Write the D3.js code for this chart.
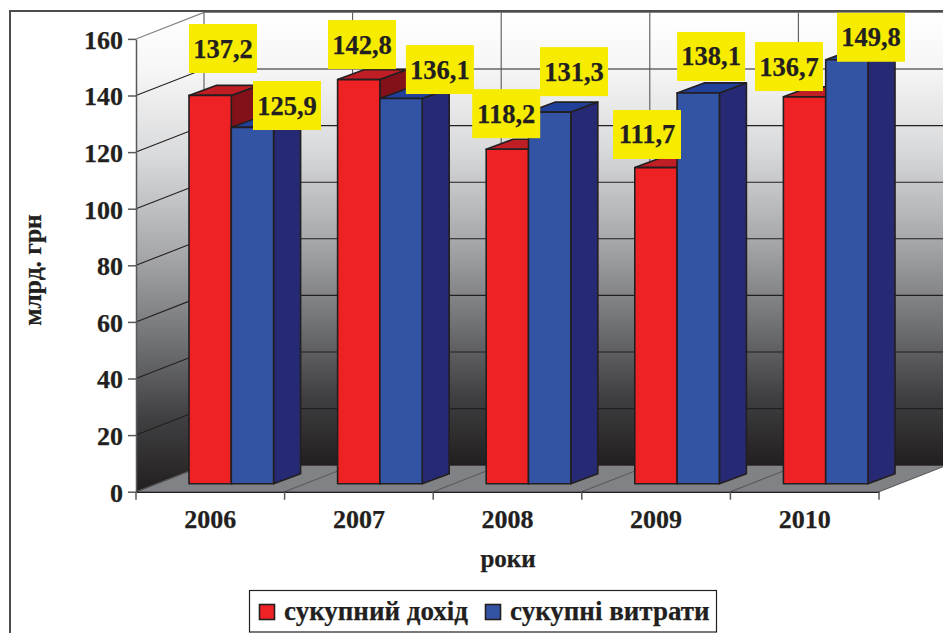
<!DOCTYPE html>
<html>
    <head>
        <meta charset="UTF-8">
        <script src="https://d3js.org/d3.v7.min.js"></script>
        <style>
            body { margin: 0; background: #fff; overflow: hidden; }
            text { font-family: "Liberation Serif", serif; font-weight: bold; fill: #231f20; stroke: #231f20; stroke-width: 0.25px; }
        </style>
    </head>

    <body>

        <svg id="canvas"></svg>

        <script>

            const years = ["2006", "2007", "2008", "2009", "2010"];
            const income = [137.2, 142.8, 118.2, 111.7, 136.7];
            const spending = [125.9, 136.1, 131.3, 138.1, 149.8];
            const seriesNames = ["сукупний дохід", "сукупні витрати"];
            const yTicks = [0, 20, 40, 60, 80, 100, 120, 140, 160];

            const width = 943, height = 633;
            const depthX = 68, depthY = -26.5;     // wall offset of the fake 3d box
            const barDepthX = 27, barDepthY = -10; // depth of a single bar
            const barInsetX = 21, barInsetY = -8;  // bars stand this far in on the floor
            const barWidth = 42.3;
            const lineColor = "#231f20";

            const colors = [
                { front: "#ee2224", top: "#bf1e24", side: "#83111a" },
                { front: "#3353a4", top: "#21409a", side: "#262a75" }
            ];

            // label box offset from the top left corner of its bar [dx, dy], hand placed
            const labelOffsets = [
                [[0, -71.4], [21.7, -46.4]],
                [[-9.6, -59.5], [26, -53.5]],
                [[-14, -60], [11.5, -65]],
                [[-21.8, -57.6], [0, -60.9]],
                [[-28.4, -54.8], [11.3, -47]]
            ];

            const svg = d3.select("#canvas")
                .attr("width", width)
                .attr("height", height)
                .style("display", "block");

            const x = d3.scaleBand().domain(years).range([136, 879]);
            const y = d3.scaleLinear().domain([0, 160]).range([491.7, 38.9]);
            const floorY = y(0), topY = y(160);
            const left = x.range()[0], right = x.range()[1];
            const edges = years.map(d => x(d)).concat(right);

            const poly = pts => pts.map(p => p.join(",")).join(" ");

            const grad = svg.append("defs").append("linearGradient")
                .attr("id", "wall").attr("x1", 0).attr("y1", 0).attr("x2", 0).attr("y2", 1);
            grad.selectAll("stop")
                .data([[0, "#ffffff"], [0.12, "#f6f6f7"], [0.3, "#d9dadb"], [0.5, "#a7a9ac"], [0.7, "#6d6e71"], [0.85, "#3f3f41"], [1, "#231f20"]])
                .join("stop")
                .attr("offset", d => d[0])
                .attr("stop-color", d => d[1]);

            // walls and floor
            svg.append("polygon")
                .attr("points", poly([[left, floorY], [left + depthX, floorY + depthY], [left + depthX, topY + depthY], [left, topY]]))
                .attr("fill", "url(#wall)");
            svg.append("rect")
                .attr("x", left + depthX).attr("y", topY + depthY)
                .attr("width", right - left).attr("height", floorY - topY)
                .attr("fill", "url(#wall)");
            svg.append("polygon")
                .attr("points", poly([[left, floorY], [right, floorY], [right + depthX, floorY + depthY], [left + depthX, floorY + depthY]]))
                .attr("fill", "#808285");

            // grid lines on the left wall and back wall
            const grid = svg.append("g").attr("stroke", lineColor).attr("stroke-width", 1.1).attr("fill", "none");
            grid.selectAll(".wallLine")
                .data(yTicks)
                .join("polyline")
                .attr("class", "wallLine")
                .attr("stroke", d => d == 160 ? "#808285" : lineColor)
                .attr("points", d => poly([[left, y(d)], [left + depthX, y(d) + depthY], [right + depthX, y(d) + depthY]]));
            grid.selectAll(".backLine")
                .data(edges)
                .join("polyline")
                .attr("class", "backLine")
                .attr("stroke", "#58595b")
                .attr("points", d => poly([[d, floorY], [d + depthX, floorY + depthY], [d + depthX, topY + depthY]]));

            // axes
            const yAxis = svg.append("g")
                .attr("transform", `translate(${left},0)`)
                .call(d3.axisLeft(y).tickValues(yTicks).tickSize(8).tickSizeOuter(0).tickPadding(5));
            const xAxis = svg.append("g")
                .attr("transform", `translate(0,${floorY})`)
                .call(d3.axisBottom(x).tickSize(0).tickPadding(18));
            svg.selectAll(".xTick")
                .data(edges)
                .join("line")
                .attr("class", "xTick")
                .attr("x1", d => d).attr("x2", d => d)
                .attr("y1", floorY).attr("y2", floorY + 8)
                .attr("stroke", "#58595b").attr("stroke-width", 1.5);
            svg.selectAll(".domain").attr("stroke", "#58595b").attr("stroke-width", 1.5);
            xAxis.select(".domain").attr("stroke", lineColor);
            yAxis.selectAll("line").attr("stroke", "#58595b").attr("stroke-width", 1.5);
            svg.selectAll(".tick text").attr("font-size", 26);
            yAxis.selectAll("g").attr("font-family", null);
            yAxis.attr("font-family", null).attr("font-size", null);
            xAxis.attr("font-family", null).attr("font-size", null);
            yAxis.selectAll("text").attr("dy", "0.36em");

            // bars
            const h = v => y(0) - y(v);
            const barLeft = (yr, s) => x(yr) + x.bandwidth() / 2 + barInsetX - barWidth + s * barWidth;
            const barBase = floorY + barInsetY;

            const bars = years.flatMap((yr, i) => [
                { yr, i, s: 0, v: income[i] },
                { yr, i, s: 1, v: spending[i] }
            ]);

            const barG = svg.append("g").selectAll("g")
                .data(bars)
                .join("g")
                .attr("stroke", lineColor)
                .attr("stroke-width", 1.6)
                .attr("stroke-linejoin", "round");

            barG.append("polygon")
                .attr("fill", d => colors[d.s].side)
                .attr("points", d => {
                    const r = barLeft(d.yr, d.s) + barWidth, t = barBase - h(d.v);
                    return poly([[r, barBase], [r + barDepthX, barBase + barDepthY], [r + barDepthX, t + barDepthY], [r, t]]);
                });
            barG.append("polygon")
                .attr("fill", d => colors[d.s].top)
                .attr("points", d => {
                    const l = barLeft(d.yr, d.s), t = barBase - h(d.v);
                    return poly([[l, t], [l + barWidth, t], [l + barWidth + barDepthX, t + barDepthY], [l + barDepthX, t + barDepthY]]);
                });
            barG.append("rect")
                .attr("fill", d => colors[d.s].front)
                .attr("x", d => barLeft(d.yr, d.s))
                .attr("y", d => barBase - h(d.v))
                .attr("width", barWidth)
                .attr("height", d => h(d.v));

            // value labels
            const labels = svg.append("g").selectAll("g")
                .data(bars)
                .join("g")
                .attr("transform", d => {
                    const off = labelOffsets[d.i][d.s];
                    return `translate(${barLeft(d.yr, d.s) + off[0]},${barBase - h(d.v) + off[1]})`;
                });
            labels.append("rect")
                .attr("width", 68).attr("height", 49)
                .attr("fill", "#f7ec00");
            labels.append("text")
                .attr("x", 34).attr("y", 24.5).attr("dy", "0.34em")
                .attr("text-anchor", "middle")
                .attr("font-size", 26.5)
                .text(d => d.v.toFixed(1).replace(".", ","));

            // axis titles
            svg.append("text")
                .attr("transform", "translate(41,270) rotate(-90)")
                .attr("text-anchor", "middle")
                .attr("font-size", 25.5)
                .text("млрд. грн");
            svg.append("text")
                .attr("x", 508).attr("y", 567)
                .attr("text-anchor", "middle")
                .attr("font-size", 25)
                .text("роки");

            // outer frame, left and top only, the rest is cut off in the source
            svg.append("polyline")
                .attr("points", poly([[10, height], [10, 11], [width, 11]]))
                .attr("fill", "none")
                .attr("stroke", "#4d4d4f")
                .attr("stroke-width", 2);

            // legend
            const legend = svg.append("g");
            legend.append("rect")
                .attr("x", 249.5).attr("y", 590.5).attr("width", 467).attr("height", 41.5)
                .attr("fill", "#fff").attr("stroke", lineColor).attr("stroke-width", 1.2);
            const legendItems = legend.selectAll(".item")
                .data(seriesNames)
                .join("g")
                .attr("class", "item")
                .attr("transform", (d, i) => `translate(${i ? 485.5 : 259.5},604.5)`);
            legendItems.append("rect")
                .attr("width", 15).attr("height", 15)
                .attr("fill", (d, i) => colors[i].front)
                .attr("stroke", lineColor).attr("stroke-width", 1.6);
            legendItems.append("text")
                .attr("x", 24.5).attr("y", 15.5)
                .attr("font-size", 27)
                .text(d => d);

        </script>

    </body>

</html>
